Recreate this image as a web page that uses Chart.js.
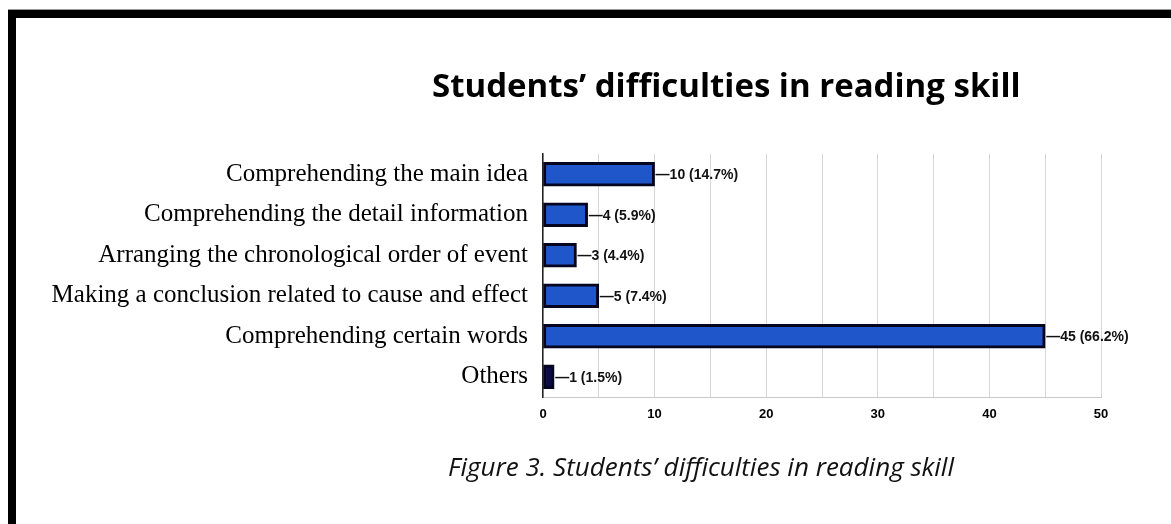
<!DOCTYPE html>
<html>
<head>
  <script src="https://cdn.jsdelivr.net/npm/chart.js"></script>
  <style>
    body { margin: 0; background: #fff; }
    #wrap { position: relative; width: 1171px; height: 524px; overflow: hidden; }
    #frame { position: absolute; left: 8px; top: 10px; width: 1200px; height: 600px;
             border-top: 8px solid #000; border-left: 8px solid #000; box-shadow: 0 -1px 0 #999; }
    #title { position: absolute; left: 432px; top: 68px; font: bold 33px 'Open Sans'; line-height: 1; color: #000; white-space: nowrap; }
    #caption { position: absolute; left: 0; width: 954px; top: 453px; text-align: right;
               font: italic 26px 'Open Sans'; line-height: 1; color: #111; white-space: nowrap; }
    #box { position: absolute; left: 0; top: 0; width: 1171px; height: 524px; }
  </style>
</head>
<body>
<div id="wrap">
  <div id="frame"></div>
  <div id="box"><canvas id="difficultyChart"></canvas></div>
  <div id="title">Students’ difficulties in reading skill</div>
  <div id="caption">Figure 3. Students’ difficulties in reading skill</div>
</div>
<script>
const categories = [
  'Comprehending the main idea',
  'Comprehending the detail information',
  'Arranging the chronological order of event',
  'Making a conclusion related to cause and effect',
  'Comprehending certain words',
  'Others'
];
const counts = [10, 4, 3, 5, 45, 1];
const percents = [14.7, 5.9, 4.4, 7.4, 66.2, 1.5];
const xTicks = [0, 10, 20, 30, 40, 50];

// value labels next to each bar
const valueLabels = {
  id: 'valueLabels',
  afterDatasetsDraw(chart) {
    let ctx = chart.ctx;
    let meta = chart.getDatasetMeta(0);
    ctx.save();
    ctx.font = 'bold 14px "Liberation Sans", Arial';
    ctx.fillStyle = '#111';
    ctx.textAlign = 'left';
    ctx.textBaseline = 'middle';
    meta.data.forEach((bar, i) => {
      ctx.fillText('\u2014' + counts[i] + ' (' + percents[i] + '%)', bar.x + 1, bar.y + 1);
    });
    ctx.restore();
  }
};

let ctx = document.getElementById('difficultyChart').getContext('2d');
const chart = new Chart(ctx, {
  type: 'bar',
  data: {
    labels: categories,
    datasets: [{
      data: counts,
      backgroundColor: (c) => counts[c.dataIndex] <= 1 ? '#0b0b48' : '#1f56c9',
      borderColor: '#05051f',
      borderWidth: 3,
      borderSkipped: false,
      barThickness: 24
    }]
  },
  options: {
    indexAxis: 'y',
    responsive: true,
    maintainAspectRatio: false,
    animation: false,
    layout: { padding: { left: 16, right: 70, top: 154, bottom: 97 } },
    plugins: {
      legend: { display: false },
      tooltip: { enabled: false }
    },
    scales: {
      x: {
        min: 0,
        max: 50,
        afterFit: (s) => { s.height = 30; },
        afterBuildTicks: (s) => {
          s.ticks = [];
          for (let v = 0; v <= 50; v += 5) s.ticks.push({ value: v });
        },
        ticks: {
          autoSkip: false,
          maxRotation: 0,
          padding: 10,
          color: '#000',
          font: { family: '"Liberation Sans", Arial', weight: 'bold', size: 13 },
          callback: (v) => xTicks.includes(v) ? v : ''
        },
        grid: { color: '#d6d6d6', drawTicks: false },
        border: { color: '#c8c8c8' }
      },
      y: {
        afterFit: (s) => { s.width = 527; },
        ticks: {
          padding: 15,
          color: '#000',
          font: { family: '"Liberation Serif", "Times New Roman"', size: 25 }
        },
        grid: { display: false, drawTicks: false },
        border: { color: '#222', width: 1.5 }
      }
    }
  },
  plugins: [valueLabels]
});
</script>
</body>
</html>
